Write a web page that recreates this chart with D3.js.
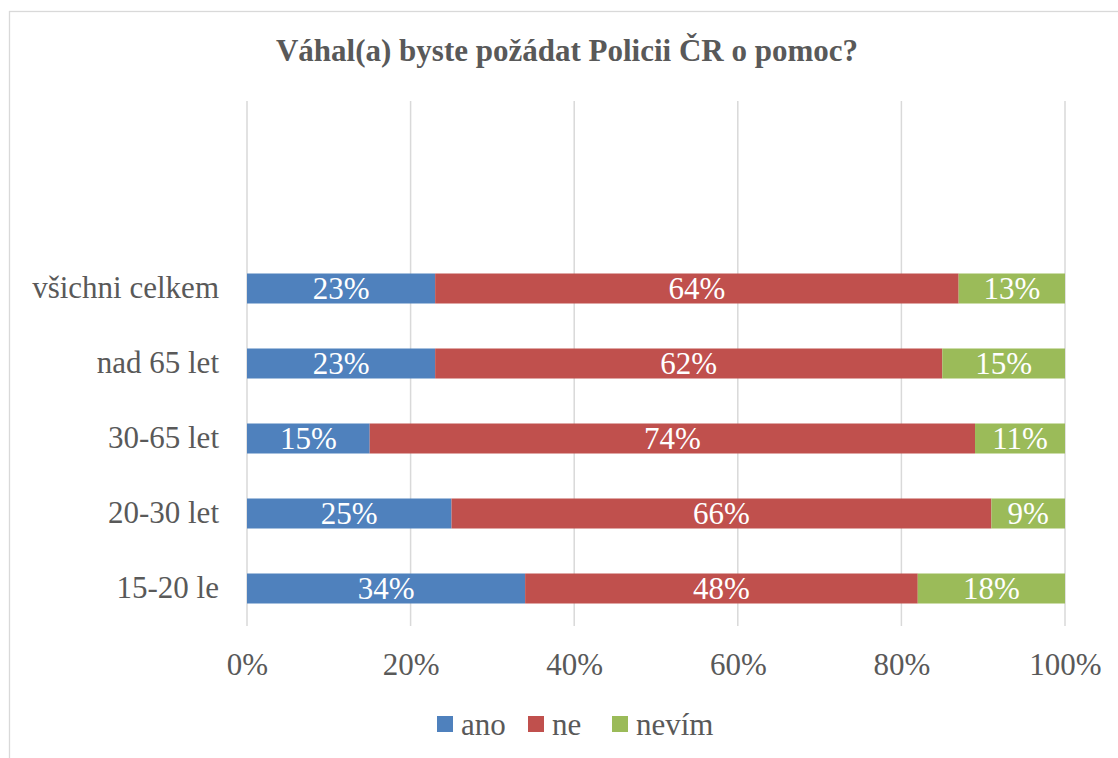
<!DOCTYPE html>
<html>
<head>
<meta charset="utf-8">
<script src="https://cdn.jsdelivr.net/npm/d3@7"></script>
<style>
    body { margin: 0; background: #fff; }
    text { font-family: "Liberation Serif", "Times New Roman", serif; }
</style>
</head>
<body>
<svg id="chart" width="1118" height="758"></svg>
<script>
// data, top to bottom as drawn
var categories = ["všichni celkem", "nad 65 let", "30-65 let", "20-30 let", "15-20 le"];
var seriesNames = ["ano", "ne", "nevím"];
var ano = [23, 23, 15, 25, 34];
var ne = [64, 62, 74, 66, 48];
var nevim = [13, 15, 11, 9, 18];
var colors = ["#4f81bd", "#c0504d", "#9bbb59"];
var xTicks = [0, 20, 40, 60, 80, 100];
var emptySlots = 2; // blank rows above the bars

var svg = d3.select("#chart");
var textColor = "#595959";
var fs = "31px";

// chart frame
svg.append("rect")
    .attr("x", 9.5).attr("y", 11.5)
    .attr("width", 1130).attr("height", 760)
    .attr("fill", "none")
    .attr("stroke", "#d9d9d9")
    .attr("stroke-width", 1.3);

svg.append("text")
    .attr("x", 567).attr("y", 61)
    .attr("text-anchor", "middle")
    .attr("font-size", fs)
    .attr("font-weight", "bold")
    .attr("fill", textColor)
    .text("Váhal(a) byste požádat Policii ČR o pomoc?");

var slots = d3.range(emptySlots).map(function (i) { return "_pad" + i; }).concat(categories);

var x = d3.scaleLinear().domain([0, 100]).range([247, 1065]);
var y = d3.scaleBand().domain(slots).range([101, 626]).paddingInner(0.6).paddingOuter(0.3);

// gridlines
svg.append("g")
    .selectAll("line")
    .data(xTicks)
    .enter().append("line")
    .attr("x1", function (d) { return x(d); })
    .attr("x2", function (d) { return x(d); })
    .attr("y1", 101).attr("y2", 626)
    .attr("stroke", "#d9d9d9")
    .attr("stroke-width", 1.5);

// x axis labels
var xAxis = svg.append("g")
    .attr("transform", "translate(0,626)")
    .call(d3.axisBottom(x).tickValues(xTicks).tickFormat(function (d) { return d + "%"; }).tickSize(0).tickPadding(27));
xAxis.select(".domain").remove();
xAxis.selectAll("text")
    .attr("font-size", fs)
    .attr("font-family", "Liberation Serif, serif")
    .attr("fill", textColor);

// y axis labels
var yAxis = svg.append("g")
    .attr("transform", "translate(247,0)")
    .call(d3.axisLeft(y).tickSize(0).tickPadding(28)
        .tickFormat(function (d) { return d.indexOf("_pad") === 0 ? "" : d; }));
yAxis.select(".domain").remove();
yAxis.selectAll("text")
    .attr("font-size", fs)
    .attr("font-family", "Liberation Serif, serif")
    .attr("fill", textColor);

// stack the series
var rows = categories.map(function (c, i) {
    return {cat: c, ano: ano[i], ne: ne[i], "nevím": nevim[i]};
});
var stack = d3.stack().keys(seriesNames)(rows);

var layers = svg.append("g")
    .selectAll("g")
    .data(stack)
    .enter().append("g")
    .attr("fill", function (d, i) { return colors[i]; });

layers.selectAll("rect")
    .data(function (d) { return d; })
    .enter().append("rect")
    .attr("x", function (d) { return x(d[0]); })
    .attr("y", function (d) { return y(d.data.cat); })
    .attr("width", function (d) { return x(d[1]) - x(d[0]); })
    .attr("height", y.bandwidth());

layers.selectAll("text")
    .data(function (d) { return d; })
    .enter().append("text")
    .attr("x", function (d) { return (x(d[0]) + x(d[1])) / 2; })
    .attr("y", function (d) { return y(d.data.cat) + y.bandwidth() / 2; })
    .attr("dy", "0.35em")
    .attr("text-anchor", "middle")
    .attr("font-size", fs)
    .attr("fill", "#fff")
    .text(function (d) { return (d[1] - d[0]) + "%"; });

// legend
var legendX = [437, 528, 612];
var legend = svg.append("g")
    .selectAll("g")
    .data(seriesNames)
    .enter().append("g")
    .attr("transform", function (d, i) { return "translate(" + legendX[i] + ",716)"; });

legend.append("rect")
    .attr("width", 16).attr("height", 16)
    .attr("fill", function (d, i) { return colors[i]; });

legend.append("text")
    .attr("x", 24).attr("y", 8)
    .attr("dy", "0.35em")
    .attr("font-size", fs)
    .attr("fill", textColor)
    .text(function (d) { return d; });
</script>
</body>
</html>
